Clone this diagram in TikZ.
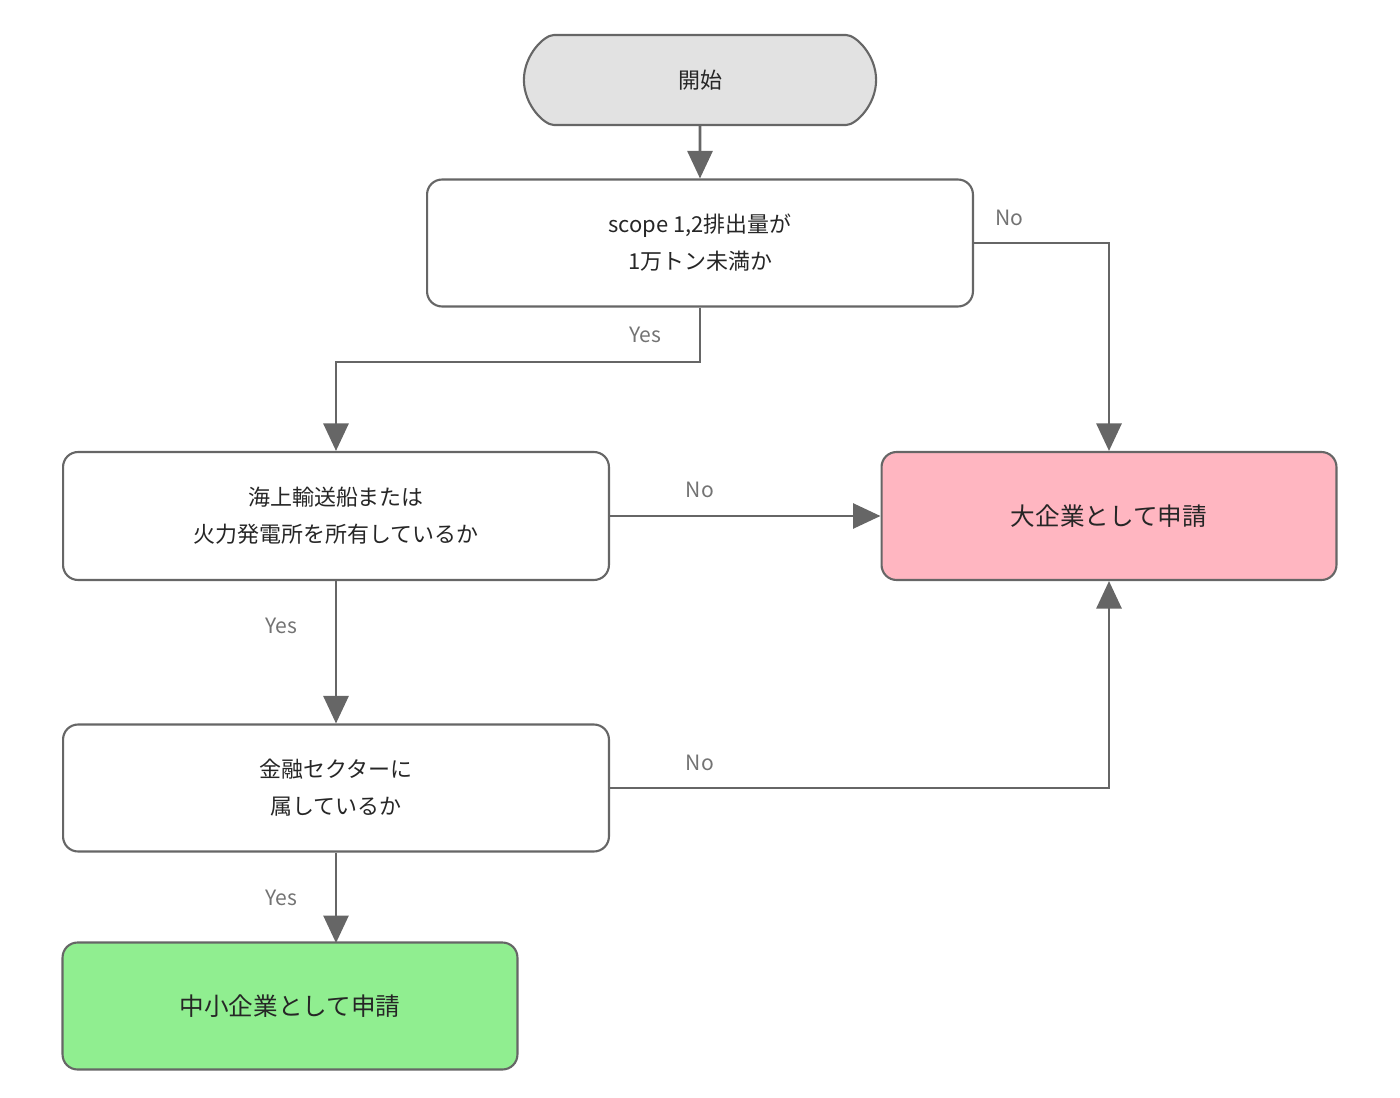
\documentclass[tikz,border=0pt]{standalone}
\usepackage{fontspec}
\setmainfont{Noto Sans CJK JP}
\usetikzlibrary{arrows.meta,shapes.misc}
\definecolor{linegray}{HTML}{666666}
\definecolor{startgray}{HTML}{E2E2E2}
\definecolor{largepink}{HTML}{FFB6C1}
\definecolor{smallgreen}{HTML}{90EE90}
\tikzset{
  box/.style={draw=linegray, line width=1.2pt, rounded corners=0.3cm, fill=white,
    align=center, font=\fontsize{12.5}{21}\selectfont, text=black!85},
  flow/.style={draw=linegray, line width=1.6pt, -{Triangle[length=0.55cm,width=0.5cm]}},
  lbl/.style={text=black!55, font=\fontsize{12}{14}\selectfont}
}
\begin{document}
\begin{tikzpicture}[x=0.02cm,y=-0.02cm]
  \useasboundingbox (0,0) rectangle (1400,1098);
  % nodes
  \node[box, rounded rectangle, fill=startgray, minimum width=7.28cm, minimum height=1.8cm]
    (start) at (700,80) {開始};
  \node[box, minimum width=10.92cm, minimum height=2.54cm] (scope) at (700,243)
    {scope 1,2排出量が\\1万トン未満か};
  \node[box, minimum width=10.92cm, minimum height=2.56cm] (ship) at (336,516)
    {海上輸送船または\\火力発電所を所有しているか};
  \node[box, minimum width=10.92cm, minimum height=2.54cm] (fin) at (336,788)
    {金融セクターに\\属しているか};
  \node[box, fill=largepink, minimum width=9.1cm, minimum height=2.56cm,
    font=\fontsize{14}{16}\selectfont] (large) at (1109,516) {大企業として申請};
  \node[box, fill=smallgreen, minimum width=9.1cm, minimum height=2.54cm,
    font=\fontsize{14}{16}\selectfont] (small) at (290,1006) {中小企業として申請};
  \coordinate (smalltop) at (336,943);
  % connectors
  \draw[flow] (start) -- (scope);
  \draw[flow] (scope.south) |- (336,362) -- (ship.north);
  \draw[flow] (scope.east) -| (large.north);
  \draw[flow] (ship) -- (large);
  \draw[flow] (ship) -- (fin);
  \draw[flow] (fin.east) -| (large.south);
  \draw[flow] (fin.south) -- (smalltop);
  % labels
  \node[lbl] (y1) at (645,335) {Yes};
  \node[lbl] (n1) at (1009,218) {No};
  \node[lbl] (n2) at (700,490) {No};
  \node[lbl] (y2) at (281,626) {Yes};
  \node[lbl] (n3) at (700,763) {No};
  \node[lbl] (y3) at (281,898) {Yes};
\end{tikzpicture}
\end{document}
